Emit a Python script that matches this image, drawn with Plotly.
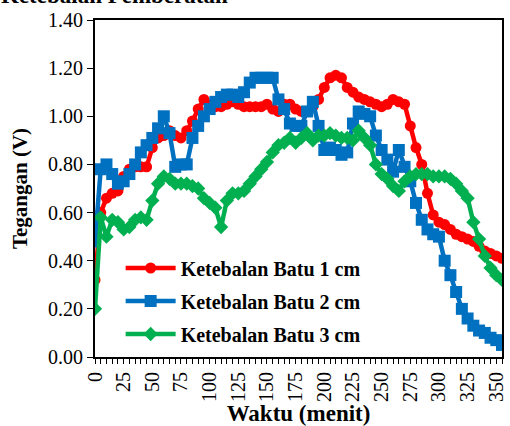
import plotly.graph_objects as go

waktu = list(range(0, 360, 5))

batu1 = [0.32, 0.60, 0.66, 0.68, 0.69, 0.75, 0.78, 0.79, 0.79, 0.79,
         0.87, 0.91, 0.92, 0.94, 0.92, 0.91, 0.94, 0.98, 1.03, 1.07,
         1.05, 1.04, 1.04, 1.05, 1.06, 1.05, 1.04, 1.04, 1.04, 1.04,
         1.05, 1.03, 1.02, 1.05, 1.05, 1.03, 1.02, 1.02, 1.04, 1.07,
         1.12, 1.16, 1.17, 1.16, 1.12, 1.10, 1.08, 1.07, 1.06, 1.05,
         1.04, 1.05, 1.07, 1.06, 1.05, 0.96, 0.87, 0.80, 0.68, 0.59,
         0.56, 0.55, 0.53, 0.51, 0.50, 0.49, 0.48, 0.46, 0.44, 0.43,
         0.42, 0.41]

batu2 = [0.48, 0.78, 0.80, 0.76, 0.72, 0.73, 0.76, 0.80, 0.85, 0.88,
         0.91, 0.95, 1.00, 0.93, 0.79, 0.80, 0.80, 0.91, 0.96, 1.00,
         1.03, 1.06, 1.08, 1.09, 1.09, 1.08, 1.10, 1.14, 1.16, 1.16,
         1.16, 1.16, 1.07, 1.03, 0.97, 0.96, 0.96, 1.02, 1.06, 0.96,
         0.86, 0.87, 0.86, 0.84, 0.85, 0.97, 1.02, 1.01, 1.00, 0.92,
         0.86, 0.82, 0.77, 0.86, 0.79, 0.73, 0.64, 0.57, 0.53, 0.51,
         0.50, 0.40, 0.34, 0.27, 0.20, 0.16, 0.13, 0.11, 0.10, 0.08,
         0.07, 0.05]

batu3 = [0.20, 0.58, 0.50, 0.57, 0.56, 0.53, 0.54, 0.57, 0.58, 0.57,
         0.65, 0.72, 0.75, 0.74, 0.72, 0.72, 0.72, 0.71, 0.70, 0.66,
         0.64, 0.62, 0.54, 0.65, 0.68, 0.68, 0.69, 0.72, 0.75, 0.78,
         0.81, 0.85, 0.88, 0.89, 0.91, 0.89, 0.91, 0.93, 0.90, 0.92,
         0.92, 0.93, 0.92, 0.91, 0.91, 0.90, 0.94, 0.91, 0.88, 0.80,
         0.76, 0.74, 0.71, 0.69, 0.73, 0.75, 0.76, 0.76, 0.76, 0.75,
         0.75, 0.75, 0.74, 0.72, 0.69, 0.66, 0.56, 0.49, 0.42, 0.37,
         0.34, 0.32]

names = ["Ketebalan Batu 1 cm", "Ketebalan Batu 2 cm", "Ketebalan Batu 3 cm"]
colors = ["#FF0000", "#0070C0", "#00B050"]
symbols = ["circle", "square", "diamond"]
sizes = [11, 12, 11]
ytick_vals = [0.0, 0.2, 0.4, 0.6, 0.8, 1.0, 1.2, 1.4]
ytick_text = ["0.00", "0.20", "0.40", "0.60", "0.80", "1.00", "1.20", "1.40"]
xtick_vals = list(range(0, 351, 25))
xtick_text = [str(v) for v in xtick_vals]

FONT = "Liberation Serif"

fig = go.Figure()
for i, ys in enumerate([batu1, batu2, batu3]):
    fig.add_trace(go.Scatter(
        x=waktu, y=ys, mode="lines+markers", name=names[i],
        legendgroup=f"g{i}",
        line=dict(color=colors[i], width=4.5),
        marker=dict(symbol=symbols[i], size=sizes[i], color=colors[i]),
    ))

fig.update_layout(
    width=510, height=426,
    margin=dict(l=95, r=3, t=20, b=69),
    paper_bgcolor="white", plot_bgcolor="white",
    font=dict(family=FONT, size=20, color="black"),
    showlegend=True,
    legend=dict(
        x=0.063, y=0.322, xanchor="left", yanchor="top",
        bgcolor="rgba(0,0,0,0)", tracegroupgap=4,
        font=dict(family=FONT, size=20, color="black", weight="bold"),
        itemwidth=50,
    ),
)

fig.update_xaxes(
    range=[0, 355], tickmode="array",
    tickvals=xtick_vals, ticktext=xtick_text,
    tickangle=-90, ticks="outside", ticklen=5, tickwidth=1, tickcolor="black",
    minor=dict(dtick=5, tick0=0, ticks="outside", ticklen=5, tickwidth=1, tickcolor="black"),
    showline=True, linecolor="black", linewidth=2, mirror=True,
    showgrid=False, zeroline=False,
    tickfont=dict(family=FONT, size=20),
    title=dict(text="Waktu (menit)", font=dict(family=FONT, size=23, weight="bold"), standoff=2),
)

fig.update_yaxes(
    range=[0, 1.4], tickmode="array", tickvals=ytick_vals, ticktext=ytick_text,
    ticks="outside", ticklen=6, tickwidth=1, tickcolor="black",
    showline=True, linecolor="black", linewidth=2, mirror=True,
    showgrid=False, zeroline=False,
    tickfont=dict(family=FONT, size=20),
    title=dict(text="Tegangan (V)", font=dict(family=FONT, size=21, weight="bold"), standoff=15),
)

fig.add_annotation(
    text="<b>Ketebalan Pemberatan</b>", xref="paper", yref="paper",
    x=-0.235, y=1.072, xanchor="left", yanchor="middle", showarrow=False,
    font=dict(family=FONT, size=23, color="black"),
)

fig.write_html(
    "out.html",
    config={"displayModeBar": False},
    post_script="document.body.style.margin='0';document.body.style.overflow='hidden';",
)
